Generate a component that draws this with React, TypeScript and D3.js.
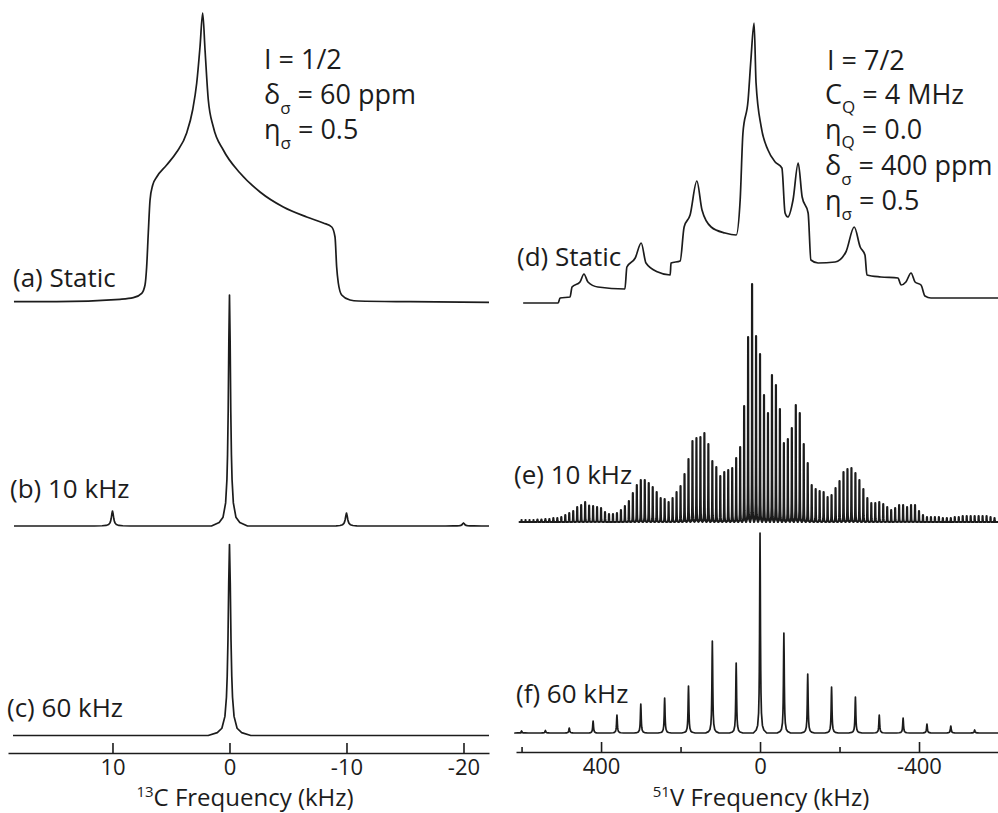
import { useEffect, useRef } from 'react'
import * as d3 from 'd3'

const W = 998
const H = 813
const INK = '#1c1c1c'
const FONT = '"Open Sans", "Noto Sans", sans-serif'

// ---- 13C panel (kHz, intensity) ----
// (a) static CSA powder pattern
const cStatic: [number, number][] = [
  [18.42, 0.3], [14.77, 0.3], [9.36, 2.7], [8.22, 4.3], [7.5, 8.7], [7.22, 17],
  [7.08, 35], [6.94, 69], [6.79, 102], [6.56, 117], [6.22, 125], [5.37, 137],
  [4.51, 150], [3.66, 169], [3.15, 192], [2.8, 219], [2.52, 255], [2.29, 289],
  [2.09, 252], [1.81, 202], [1.38, 175], [0.53, 152], [-0.9, 129], [-2.61, 110],
  [-4.6, 95], [-6.6, 85], [-8.02, 79], [-8.74, 75], [-9.02, 65], [-9.16, 35],
  [-9.3, 19], [-9.59, 7], [-10.3, 2], [-11.01, 1], [-15.43, 0.3], [-22.18, -0.3],
]
// (b) MAS 10 kHz sidebands
const cMas10Freq = [10, 0, -10, -20]
const cMas10Int = [15, 231, 13, 3]
// (c) MAS 60 kHz
const cMas60Freq = [0]
const cMas60Int = [191]

// ---- 51V panel (kHz, intensity) ----
// (d) static
const vStatic: [number, number][] = [
  [596, 0], [508, 0], [503, 5], [478, 6], [473, 16], [453, 21], [443, 29], [433, 21],
  [408, 16], [340, 14], [335, 36], [314, 45], [299, 60], [287, 40], [257, 31], [226, 28],
  [224, 40], [201, 42], [191, 76], [176, 88], [159, 122], [146, 93], [123, 76], [88, 70],
  [60, 68], [50, 103], [43, 170], [30, 203], [23, 243], [15, 280], [10, 220], [-3, 176],
  [-20, 153], [-38, 141], [-55, 135], [-63, 90], [-70, 86], [-83, 103], [-96, 140],
  [-106, 106], [-121, 90], [-128, 43], [-146, 40], [-189, 41], [-216, 51], [-237, 76],
  [-252, 56], [-264, 48], [-269, 28], [-304, 26], [-347, 25], [-355, 18], [-367, 21],
  [-380, 30], [-390, 21], [-405, 18], [-415, 7], [-430, 5], [-599, 5],
]
// (e) MAS 10 kHz: sideband intensities, first at +600 kHz, every 10 kHz
const vMas10Start = 600
const vMas10Spin = 10
const vMas10Int = [
  2, 2, 2, 2, 2.5, 2.5, 3, 3, 4, 4, 5, 7, 9, 11, 15, 17, 20, 16.5, 16, 15,
  14, 10, 8, 8, 9, 12, 16, 21, 29, 37,
  42, 42, 39, 35, 30, 24, 23, 20, 24, 30, 36, 48, 63, 81, 84, 85, 89, 78, 61, 55,
  46, 50, 52, 54, 64, 75, 116, 185,
  238,
  186, 168, 127, 109, 147, 137, 113, 79, 83, 94, 117, 109, 78, 59, 37, 33, 31, 30, 25, 27,
  34, 41, 50, 53, 54, 49, 42, 33, 24,
  19, 19, 20, 18, 15, 12, 14, 17, 17, 15, 17, 17, 11, 7, 5, 5, 5, 5, 4, 4,
  4, 5, 5, 6, 6, 6, 6, 6, 6, 6, 5, 4,
]
// (f) MAS 60 kHz
const vMas60Freq = [600, 540, 480, 420, 360, 300, 240, 180, 120, 60, 0, -60, -120, -180, -240, -300, -360, -420, -480, -540]
const vMas60Int = [2, 2.5, 5, 12, 18, 29, 35, 47, 92, 70, 200, 100, 59, 46, 36, 18, 15, 9, 7, 3]

const cTicks = [10, 0, -10, -20]
const vMajorTicks = [400, 0, -400]
const vMinorTicks = [600, 200, -200, -600]

// lorentzian line template: offset in half-widths, fraction of peak height
const lineShape: [number, number][] = [
  [-14, 0], [-8, 0.015], [-5, 0.038], [-3, 0.1], [-2, 0.2], [-1.5, 0.31], [-1, 0.5],
  [-0.5, 0.8], [0, 1], [0.5, 0.8], [1, 0.5], [1.5, 0.31], [2, 0.2], [3, 0.1],
  [5, 0.038], [8, 0.015], [14, 0],
]

// scales
const xC = d3.scaleLinear().domain([18.93, -22.18]).range([8, 489])
const xV = d3.scaleLinear().domain([614, -600]).range([516, 998.5])

const yA = d3.scaleLinear().domain([0, 289]).range([302, 13])
const yB = d3.scaleLinear().domain([0, 231]).range([526, 295])
const yC = d3.scaleLinear().domain([0, 191]).range([735.5, 544.5])
const yD = d3.scaleLinear().domain([0, 280]).range([303, 23])
const yE = d3.scaleLinear().domain([0, 238]).range([522, 284])
const yF = d3.scaleLinear().domain([0, 200]).range([733, 533])

function powderPath(data: [number, number][], x: any, y: any) {
  return d3.line<[number, number]>()
    .x(d => x(d[0]))
    .y(d => y(d[1]))
    .curve(d3.curveMonotoneX)(data) || ''
}

function sidebandPath(freq: number[], inten: number[], gamma: number, from: number, to: number, x: any, y: any) {
  const pts: [number, number][] = [[from, 0]]
  freq.forEach((f, i) => {
    lineShape.forEach(([u, frac]) => pts.push([f - u * gamma, inten[i] * frac]))
  })
  pts.push([to, 0])
  return d3.line<[number, number]>().x(d => x(d[0])).y(d => y(d[1]))(pts) || ''
}

const vMas10Freq = vMas10Int.map((_, i) => vMas10Start - i * vMas10Spin)

function Axis({ scale, y, major, minor }: { scale: any; y: number; major: number[]; minor?: number[] }) {
  const ref = useRef<SVGGElement>(null)
  useEffect(() => {
    const g = d3.select(ref.current)
    const ax = d3.axisBottom(scale)
      .tickValues(major)
      .tickSizeInner(-10)
      .tickSizeOuter(0)
      .tickPadding(6)
      .tickFormat((d: any) => String(d))
    g.select<SVGGElement>('.major').call(ax)
    if (minor) {
      const mx = d3.axisBottom(scale).tickValues(minor).tickSizeInner(-5).tickSizeOuter(0).tickFormat(() => '')
      g.select<SVGGElement>('.minor').call(mx)
      g.select('.minor .domain').remove()
    }
    g.selectAll('path, line').attr('stroke', INK).attr('stroke-width', 1.6)
    g.selectAll('text').attr('font-size', 22).attr('font-family', FONT).attr('fill', INK)
  }, [])
  return (
    <g ref={ref} transform={`translate(0,${y})`}>
      <g className="major" />
      <g className="minor" />
    </g>
  )
}

export default function App() {
  const trace = { fill: 'none', stroke: INK, strokeWidth: 1.7, strokeLinejoin: 'round' as const }
  const label = { fontFamily: FONT, fontSize: 26, fill: INK }
  const params = { fontFamily: FONT, fontSize: 27, fill: INK }
  const sub = { fontSize: 17 }
  return (
    <svg width={W} height={H} style={{ position: 'absolute', left: 0, top: 0, background: '#fff' }}>
      {/* 13C */}
      <path d={powderPath(cStatic, xC, yA)} {...trace} />
      <path d={sidebandPath(cMas10Freq, cMas10Int, 0.11, 18.42, -22.18, xC, yB)} {...trace} />
      <path d={sidebandPath(cMas60Freq, cMas60Int, 0.13, 18.5, -22.18, xC, yC)} {...trace} />
      <Axis scale={xC} y={753} major={cTicks} />

      {/* 51V */}
      <path d={powderPath(vStatic, xV, yD)} {...trace} />
      <path d={sidebandPath(vMas10Freq, vMas10Int, 0.35, 600, -600, xV, yE)} {...trace} strokeWidth={2.2} />
      <path d={sidebandPath(vMas60Freq, vMas60Int, 1.2, 600, -600, xV, yF)} {...trace} />
      <Axis scale={xV} y={752} major={vMajorTicks} minor={vMinorTicks} />

      {/* panel labels */}
      <g {...label}>
        <text x={13} y={287}>(a) Static</text>
        <text x={10} y={498}>(b) 10 kHz</text>
        <text x={7} y={717}>(c) 60 kHz</text>
        <text x={517} y={266}>(d) Static</text>
        <text x={514} y={484}>(e) 10 kHz</text>
        <text x={516} y={703}>(f) 60 kHz</text>
      </g>

      <g {...params}>
        <text x={264} y={69}>I = 1/2</text>
        <text x={264} y={104}>δ<tspan {...sub} dy={10}>σ</tspan><tspan dy={-10}> = 60 ppm</tspan></text>
        <text x={264} y={139}>η<tspan {...sub} dy={10}>σ</tspan><tspan dy={-10}> = 0.5</tspan></text>

        <text x={827} y={70}>I = 7/2</text>
        <text x={825} y={104}>C<tspan {...sub} dy={9}>Q</tspan><tspan dy={-9}> = 4 MHz</tspan></text>
        <text x={825} y={139}>η<tspan {...sub} dy={9}>Q</tspan><tspan dy={-9}> = 0.0</tspan></text>
        <text x={825} y={175}>δ<tspan {...sub} dy={10}>σ</tspan><tspan dy={-10}> = 400 ppm</tspan></text>
        <text x={825} y={210}>η<tspan {...sub} dy={10}>σ</tspan><tspan dy={-10}> = 0.5</tspan></text>
      </g>

      <g fontFamily={FONT} fontSize={24} fill={INK}>
        <text x={245} y={806} textAnchor="middle"><tspan fontSize={15} dy={-9}>13</tspan><tspan dy={9}>C Frequency (kHz)</tspan></text>
        <text x={761} y={806} textAnchor="middle"><tspan fontSize={15} dy={-9}>51</tspan><tspan dy={9}>V Frequency (kHz)</tspan></text>
      </g>
    </svg>
  )
}
